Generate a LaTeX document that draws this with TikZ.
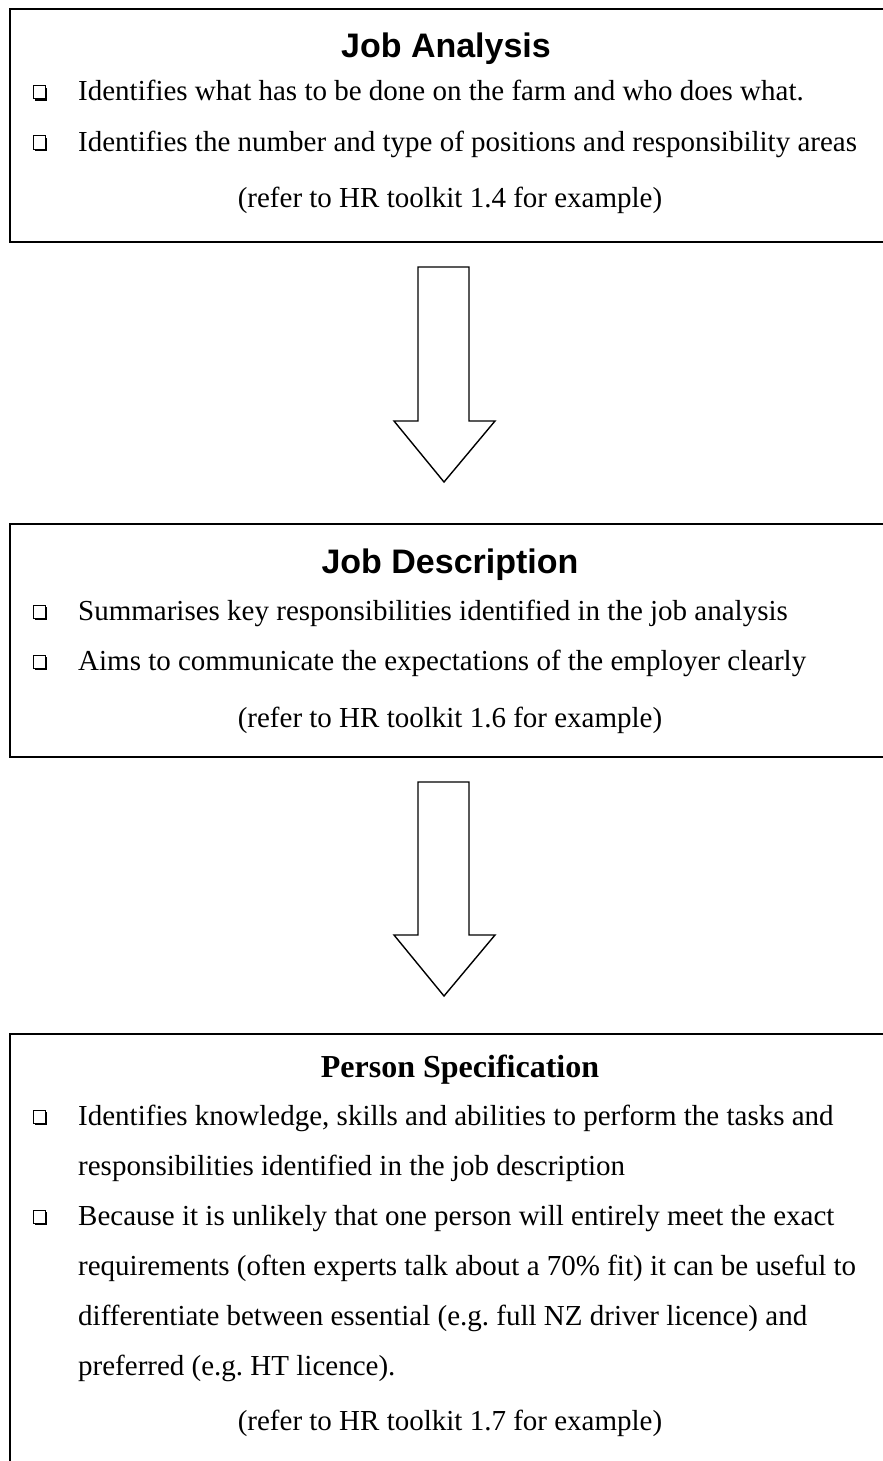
\documentclass[tikz,border=0pt]{standalone}
\usepackage{fontspec}
\setmainfont{Liberation Serif}
\newfontfamily\titlesans{Liberation Sans}
\frenchspacing
\begin{document}
\begin{tikzpicture}[x=1pt,y=-1pt,
  boxframe/.style={draw=black,line width=1.8pt},
  blockarrow/.style={draw=black,line width=1.4pt,fill=white,line join=miter},
  body/.style={inner sep=0pt,font=\fontsize{29}{29}\selectfont\frenchspacing,anchor=base west},
  refer/.style={inner sep=0pt,font=\fontsize{29}{29}\selectfont\frenchspacing,anchor=base},
  sanstitle/.style={inner sep=0pt,font=\titlesans\bfseries\fontsize{34}{34}\selectfont,anchor=base},
  serftitle/.style={inner sep=0pt,font=\bfseries\fontsize{32}{32}\selectfont,anchor=base}]
\useasboundingbox (0,0) rectangle (883,1461);
\newcommand{\bul}[1]{%
  \fill[black] (35,#1-13) rectangle (47,#1);
  \draw[black,line width=1pt,fill=white] (33.5,#1-15) rectangle (45,#1-2);}
\begin{scope}
\clip (0,0) rectangle (883,1461);
% boxes
\draw[boxframe] (10,9) rectangle (900,242);
\draw[boxframe] (10,524) rectangle (900,757);
\draw[boxframe] (10,1034) rectangle (900,1490);
% box 1
\node[sanstitle] (t1) at (446,58) {Job Analysis};
\bul{101}
\node[body] (a1) at (78,101) {Identifies what has to be done on the farm and who does what.};
\bul{151}
\node[body] (a2) at (78,151) {Identifies the number and type of positions and responsibility areas};
\node[refer] (a3) at (450,207) {(refer to HR toolkit 1.4 for example)};
% box 2
\node[sanstitle] (t2) at (450,573) {Job Description};
\bul{620}
\node[body] (b1) at (78,620) {Summarises key responsibilities identified in the job analysis};
\bul{670}
\node[body] (b2) at (78,670) {Aims to communicate the expectations of the employer clearly};
\node[refer] (b3) at (450,727) {(refer to HR toolkit 1.6 for example)};
% box 3
\node[serftitle] (t3) at (460,1077) {Person Specification};
\bul{1125}
\node[body] (c1) at (78,1125) {Identifies knowledge, skills and abilities to perform the tasks and};
\node[body] (c2) at (78,1175) {responsibilities identified in the job description};
\bul{1225}
\node[body] (c3) at (78,1225) {Because it is unlikely that one person will entirely meet the exact};
\node[body] (c4) at (78,1275) {requirements (often experts talk about a 70\% fit) it can be useful to};
\node[body] (c5) at (78,1325) {differentiate between essential (e.g. full NZ driver licence) and};
\node[body] (c6) at (78,1375) {preferred (e.g. HT licence).};
\node[refer] (c7) at (450,1430) {(refer to HR toolkit 1.7 for example)};
% arrows
\draw[blockarrow] (418,267) -- (469,267) -- (469,421) -- (495,421) -- (444,482) -- (394,421) -- (418,421) -- cycle;
\draw[blockarrow] (418,782) -- (469,782) -- (469,935) -- (495,935) -- (444,996) -- (394,935) -- (418,935) -- cycle;
\end{scope}
\end{tikzpicture}
\end{document}
